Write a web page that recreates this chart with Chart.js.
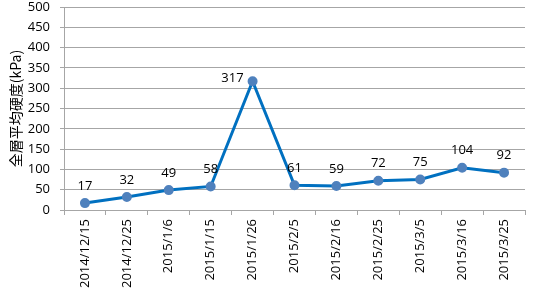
<!DOCTYPE html>
<html>
<head>
<meta charset="utf-8">
<script src="https://cdn.jsdelivr.net/npm/chart.js@4/dist/chart.umd.min.js"></script>
<style>
  html, body { margin: 0; padding: 0; background: #fff; }
  #wrap { width: 555px; height: 292px; }
</style>
</head>
<body>
<div id="wrap"><canvas id="chart" width="555" height="292"></canvas></div>
<script>
const dates = ['2014/12/15', '2014/12/25', '2015/1/6', '2015/1/15', '2015/1/26', '2015/2/5',
  '2015/2/16', '2015/2/25', '2015/3/5', '2015/3/16', '2015/3/25'];
const hardness = [17, 32, 49, 58, 317, 61, 59, 72, 75, 104, 92];
const yTicks = [0, 50, 100, 150, 200, 250, 300, 350, 400, 450, 500];

const FONT = '"Open Sans", "Liberation Sans", sans-serif';
const GRID = '#a6a6a6';

// draws the value above each point (the peak one goes to its left)
const valueLabels = {
  id: 'valueLabels',
  afterDatasetsDraw(chart) {
    const ctx = chart.ctx;
    const meta = chart.getDatasetMeta(0);
    ctx.save();
    ctx.font = '13px ' + FONT;
    ctx.fillStyle = '#000';
    ctx.textBaseline = 'middle';
    meta.data.forEach((pt, i) => {
      let v = hardness[i];
      if (v === Math.max(...hardness)) {
        ctx.textAlign = 'right';
        ctx.fillText(v, pt.x - 9, pt.y - 3);
      } else {
        ctx.textAlign = 'center';
        ctx.fillText(v, pt.x, pt.y - 17);
      }
    });
    ctx.restore();
  }
};

new Chart(document.getElementById('chart'), {
  type: 'line',
  data: {
    labels: dates,
    datasets: [{
      data: hardness,
      borderColor: '#0070c0',
      borderWidth: 3,
      pointBackgroundColor: '#4f81bd',
      pointBorderColor: '#4f81bd',
      pointRadius: 3.5,
      tension: 0
    }]
  },
  options: {
    responsive: false,
    animation: false,
    layout: { padding: { top: 0, right: 30, left: 0, bottom: 0 } },
    plugins: { legend: { display: false }, tooltip: { enabled: false } },
    scales: {
      x: {
        offset: true,
        grid: { offset: true, drawOnChartArea: false, drawTicks: true, tickLength: 5, color: GRID },
        border: { color: GRID, width: 1 },
        ticks: { minRotation: 90, maxRotation: 90, color: '#000', padding: 4, font: { size: 13, family: FONT } },
        afterFit(s) { s.height = 82; s.paddingLeft = 0; s.paddingRight = 0; }
      },
      y: {
        min: 0, max: 500,
        afterBuildTicks(s) { s.ticks = yTicks.map(v => ({ value: v })); },
        grid: { color: GRID, tickLength: 4 },
        border: { color: GRID, width: 1 },
        ticks: { color: '#000', padding: 10, font: { size: 13, family: FONT } },
        title: {
          display: true,
          text: '全層平均硬度(kPa)',
          color: '#000',
          padding: { top: 7, bottom: 0 },
          font: { size: 14, family: '"Noto Sans CJK JP", sans-serif' }
        },
        afterFit(s) { s.width = 64; s.paddingTop = 6; s.paddingBottom = 0; }
      }
    }
  },
  plugins: [valueLabels]
});
</script>
</body>
</html>
